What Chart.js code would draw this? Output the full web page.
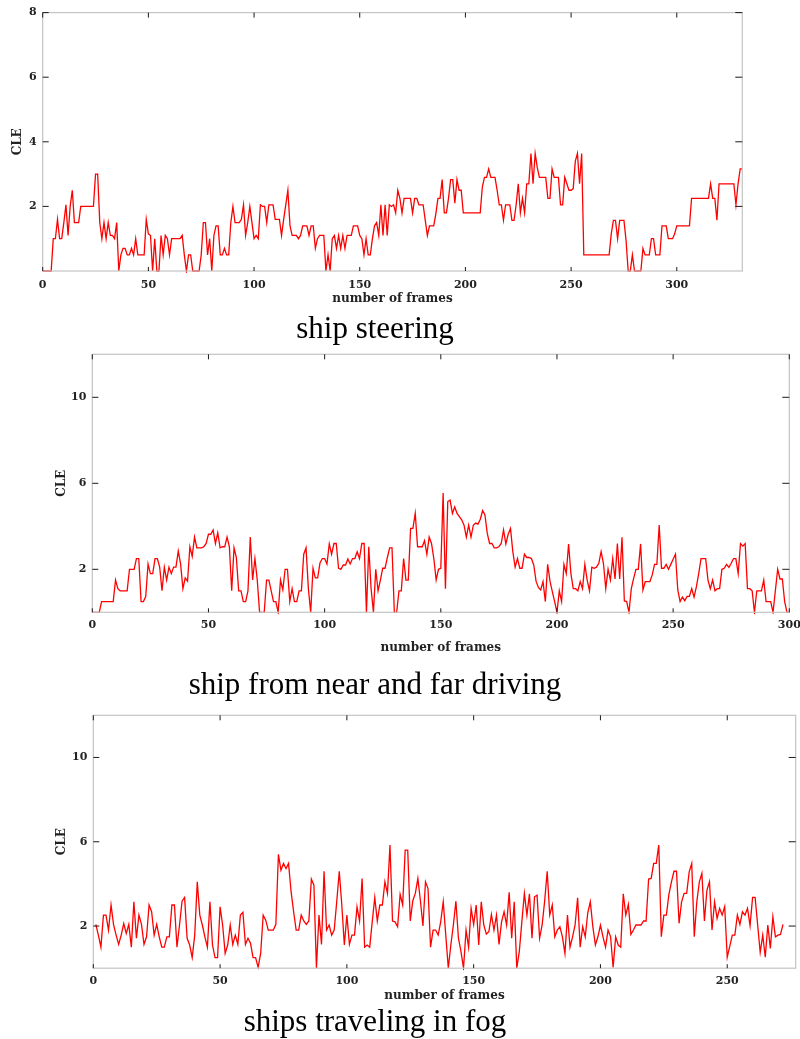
<!DOCTYPE html>
<html>
<head>
<meta charset="utf-8">
<script src="https://cdn.jsdelivr.net/npm/chart.js@4.4.1/dist/chart.umd.min.js"></script>
<style>
  html, body { margin: 0; padding: 0; background: #fff; overflow: hidden; }
  body { width: 800px; height: 1039px; position: relative; }
  .panel { position: absolute; left: 0; width: 820px; }
  .caption {
    position: absolute; left: 0; width: 750px; text-align: center;
    font-family: 'Liberation Serif', 'Times New Roman', serif;
    font-size: 31px; line-height: 31px; color: #000; white-space: nowrap;
  }
</style>
</head>
<body>
<div class="panel" style="top:0;height:312px"><canvas id="chart-steering"></canvas></div>
<div class="caption" style="top:312px">ship steering</div>
<div class="panel" style="top:340px;height:320px"><canvas id="chart-nearfar"></canvas></div>
<div class="caption" style="top:668px">ship from near and far driving</div>
<div class="panel" style="top:700px;height:310px"><canvas id="chart-fog"></canvas></div>
<div class="caption" style="top:1005px">ships traveling in fog</div>

<script>
// CLE per frame
const steeringStart = 0;
const steeringCLE = [
  0, 0, 0, 0, 0, 1.0, 1.0, 1.6, 1.0, 1.0,
  1.5, 2.05, 1.1, 2.0, 2.5, 1.5, 1.5, 1.5, 2.0, 2.0,
  2.0, 2.0, 2.0, 2.0, 2.0, 3.0, 3.0, 1.5, 1.0, 1.5,
  1.0, 1.5, 1.1, 1.1, 1.0, 1.5, 0, 0.5, 0.7, 0.7,
  0.5, 0.5, 0.7, 0.5, 1.0, 0.5, 0.5, 0.5, 0.5, 1.6,
  1.15, 1.1, 0, 1.0, 0, 0, 1.1, 0.5, 1.1, 1.0,
  0.5, 1.0, 1.0, 1.0, 1.0, 1.0, 1.1, 0.5, 0, 0.5,
  0.5, 0, 0, 0, 0, 0.5, 1.5, 1.5, 0.5, 1.0,
  0, 1.1, 1.4, 1.4, 0.5, 0.5, 0.7, 0.5, 0.5, 1.5,
  2.0, 1.5, 1.5, 1.5, 1.6, 2.05, 1.1, 1.5, 2.0, 1.5,
  1.0, 1.1, 1.0, 2.05, 2.0, 2.0, 1.5, 2.05, 2.05, 2.05,
  1.6, 1.6, 1.6, 1.1, 1.6, 2.05, 2.5, 1.4, 1.1, 1.1,
  1.1, 1.0, 1.1, 1.4, 1.4, 1.4, 1.1, 1.4, 1.4, 0.7,
  1.0, 1.1, 1.1, 1.1, 0, 0.5, 0, 1.0, 1.1, 0.7,
  1.1, 0.7, 1.1, 0.7, 1.1, 1.1, 1.1, 1.4, 1.4, 1.4,
  1.1, 1.0, 0.5, 1.0, 0.5, 0.5, 1.0, 1.4, 1.5, 1.1,
  2.05, 1.1, 2.05, 1.1, 2.05, 2.0, 2.05, 1.8, 2.5, 2.25,
  1.8, 2.25, 2.25, 2.25, 2.25, 1.8, 2.25, 2.25, 2.05, 2.05,
  2.05, 1.57, 1.1, 1.4, 1.4, 1.4, 1.77, 2.25, 2.25, 2.83,
  1.8, 1.8, 2.25, 2.83, 2.83, 2.1, 2.83, 2.5, 2.5, 1.8,
  1.8, 1.8, 1.8, 1.8, 1.8, 1.8, 1.8, 1.8, 2.6, 2.9,
  2.9, 3.16, 2.9, 2.9, 2.9, 2.5, 2.05, 2.05, 1.57, 2.05,
  2.05, 2.05, 1.57, 1.57, 2.05, 2.7, 1.8, 2.25, 1.8, 2.7,
  2.7, 3.64, 2.7, 3.64, 3.2, 2.9, 2.9, 2.9, 2.9, 2.25,
  2.25, 3.16, 2.9, 2.9, 2.9, 2.05, 2.05, 2.9, 2.7, 2.5,
  2.5, 2.55, 3.4, 3.64, 2.7, 3.64, 0.5, 0.5, 0.5, 0.5,
  0.5, 0.5, 0.5, 0.5, 0.5, 0.5, 0.5, 0.5, 0.5, 1.15,
  1.57, 1.57, 1.0, 1.57, 1.57, 1.57, 0.95, 0, 0, 0.5,
  0, 0, 0, 0, 0.7, 0.5, 0.5, 0.5, 1.0, 1.0,
  0.5, 0.5, 0.5, 1.4, 1.4, 1.4, 1.0, 1.0, 1.0, 1.15,
  1.4, 1.4, 1.4, 1.4, 1.4, 1.4, 1.4, 2.25, 2.25, 2.25,
  2.25, 2.25, 2.25, 2.25, 2.25, 2.25, 2.7, 2.25, 2.25, 1.57,
  2.7, 2.7, 2.7, 2.7, 2.7, 2.7, 2.7, 2.7, 2.05, 2.7,
  3.16, 3.16
];

const nearFarStart = 0;
const nearFarCLE = [
  0, 0, 0, 0, 0.5, 0.5, 0.5, 0.5, 0.5, 0.5,
  1.5, 1.1, 1.0, 1.0, 1.0, 1.0, 2.0, 2.0, 2.0, 2.5,
  2.5, 0.5, 0.5, 0.73, 2.25, 1.8, 1.8, 2.5, 2.5, 2.1,
  1.0, 2.1, 1.5, 2.1, 1.8, 2.1, 2.1, 2.85, 2.25, 1.1,
  1.6, 1.45, 3.05, 2.6, 3.5, 3.0, 3.0, 3.0, 3.05, 3.2,
  3.63, 3.63, 3.83, 3.2, 3.7, 3.0, 3.05, 3.05, 3.5, 3.05,
  1.0, 3.0, 2.55, 1.0, 1.0, 0.5, 0.5, 1.0, 3.5, 1.5,
  2.5, 1.5, 0, 0, 0, 1.5, 1.5, 1.0, 0.5, 0.5,
  0, 1.5, 1.05, 2.0, 2.0, 0.5, 1.1, 0.5, 0.5, 1.0,
  1.0, 2.7, 3.0, 1.1, 0, 2.05, 1.6, 1.6, 2.3, 2.5,
  2.5, 2.25, 3.18, 2.7, 3.2, 3.2, 2.05, 2.0, 2.2, 2.2,
  2.48, 2.25, 2.5, 2.5, 2.82, 2.5, 3.2, 3.2, 0, 3.05,
  1.1, 0, 2.0, 1.0, 1.5, 2.05, 2.05, 2.55, 3.0, 3.0,
  0, 0, 1.0, 1.0, 2.5, 1.5, 1.5, 3.9, 3.9, 4.6,
  3.05, 3.05, 3.05, 3.33, 2.7, 3.5, 3.2, 2.5, 1.5, 2.0,
  2.05, 5.55, 1.1, 5.15, 5.22, 4.6, 4.9, 4.6, 4.45, 4.3,
  4.05, 3.5, 4.05, 3.5, 4.05, 4.15, 4.1, 4.33, 4.73, 4.53,
  3.67, 3.2, 3.2, 3.0, 3.0, 3.05, 3.2, 3.83, 3.18, 3.63,
  3.9, 2.82, 2.1, 2.5, 2.05, 2.05, 2.7, 2.55, 2.55, 2.5,
  2.2, 1.45, 1.16, 1.04, 1.43, 0.5, 2.23, 1.45, 0.96, 0.5,
  0, 1.0, 0.5, 2.23, 1.8, 3.18, 1.8, 1.1, 1.1, 1.0,
  1.43, 1.1, 2.23, 1.5, 1.0, 2.1, 2.05, 2.1, 2.28, 2.82,
  2.28, 1.1, 2.0, 1.5, 2.5, 1.55, 3.2, 1.55, 3.49, 0.53,
  0.5, 0, 1.1, 1.58, 2.0, 2.0, 3.18, 1.04, 1.43, 1.43,
  1.43, 1.74, 2.23, 2.23, 4.06, 2.05, 2.05, 2.23, 2.0, 2.23,
  2.47, 2.71, 1.04, 0.5, 0.71, 0.54, 0.74, 0.74, 1.1, 0.71,
  1.18, 1.8, 2.5, 2.5, 2.5, 1.5, 1.1, 1.5, 1.0, 1.1,
  1.1, 2.0, 2.05, 2.23, 2.09, 2.28, 2.5, 2.5, 1.8, 3.2,
  3.08, 3.2, 1.1, 1.1, 1.0, 0, 1.0, 1.0, 1.0, 1.5,
  0.5, 0.5, 0.5, 0, 1.0, 2.0, 1.55, 1.55, 0.5, 0,
  0
];

const fogStart = 1;
const fogCLE = [
  2.08, 1.57, 1.0, 2.52, 2.52, 1.81, 3.0, 2.05, 1.57, 1.13,
  1.57, 2.12, 1.65, 2.08, 1.0, 3.15, 1.42, 2.52, 2.08, 1.13,
  1.49, 3.0, 2.68, 1.57, 2.08, 1.49, 1.0, 1.0, 1.49, 1.49,
  3.0, 3.0, 1.0, 2.05, 3.18, 3.36, 1.42, 1.1, 0.5, 1.57,
  4.1, 2.52, 2.05, 1.49, 1.0, 3.15, 1.1, 0.5, 0.5, 2.91,
  2.05, 0.7, 1.1, 2.05, 1.13, 1.57, 1.13, 2.52, 2.65, 1.13,
  1.42, 1.18, 0.5, 0.5, 0.04, 0.7, 2.52, 2.28, 1.81, 1.81,
  1.81, 2.08, 5.4, 4.65, 4.97, 4.73, 4.97, 3.63, 2.68, 1.81,
  1.81, 2.52, 2.24, 2.08, 2.24, 4.23, 3.94, 0, 2.52, 1.13,
  4.6, 1.81, 2.05, 1.57, 1.81, 3.15, 4.6, 3.0, 1.1, 2.52,
  1.13, 1.57, 1.57, 2.91, 2.24, 4.26, 1.0, 1.1, 1.0, 2.2,
  3.36, 2.24, 3.0, 3.0, 4.1, 3.55, 5.84, 2.24, 2.2, 1.97,
  3.5, 3.0, 5.6, 5.6, 2.24, 3.2, 3.55, 4.26, 3.2, 2.0,
  4.1, 3.78, 1.0, 1.81, 1.81, 1.57, 2.2, 3.15, 1.57, 0,
  1.1, 2.05, 3.18, 1.42, 0.79, 0, 1.81, 1.0, 2.84, 2.08,
  3.0, 1.1, 3.15, 2.05, 1.62, 1.73, 2.55, 1.81, 2.52, 1.13,
  2.2, 2.68, 2.05, 3.6, 1.42, 3.15, 0, 0.79, 2.2, 3.55,
  2.52, 3.53, 1.42, 3.39, 3.47, 1.42, 2.05, 3.18, 4.6, 2.52,
  3.0, 1.49, 1.81, 1.97, 1.49, 0.7, 2.52, 1.0, 1.49, 2.05,
  3.34, 1.0, 1.97, 1.49, 2.63, 3.15, 1.97, 1.1, 1.49, 2.05,
  1.49, 1.0, 1.81, 1.49, 0.04, 1.49, 1.1, 1.0, 3.53, 2.52,
  3.03, 1.6, 1.81, 2.05, 2.05, 2.05, 2.24, 2.24, 4.23, 4.26,
  4.97, 4.97, 5.84, 1.49, 2.52, 2.52, 3.5, 4.1, 4.6, 4.6,
  2.13, 3.15, 3.55, 3.55, 4.57, 4.97, 1.49, 3.15, 4.1, 4.5,
  2.24, 3.71, 4.1, 1.81, 3.15, 2.36, 2.84, 2.52, 2.92, 0.52,
  1.05, 1.57, 1.57, 2.52, 2.08, 2.68, 2.52, 2.84, 2.02, 3.36,
  3.36, 2.05, 0.75, 1.57, 0.52, 2.05, 0.94, 2.44, 1.49, 1.57,
  1.6, 2.08
];

// axis ticks
const frameTicks = [0, 50, 100, 150, 200, 250, 300];
const steeringYTicks = [2, 4, 6, 8];
const tallYTicks = [2, 6, 10];

const tickFont = { family: "'DejaVu Serif', serif", size: 11, weight: 'bold' };
const titleFont = { family: "'DejaVu Serif', serif", size: 12, weight: 'bold' };

// light grey box with short black ticks pointing inward on all four sides
const boxTicks = {
  id: 'boxTicks',
  afterDraw(chart) {
    const { ctx, chartArea: a, scales: { x, y } } = chart;
    ctx.save();
    ctx.strokeStyle = '#c4c4c4';
    ctx.lineWidth = 1.2;
    ctx.strokeRect(a.left, a.top, a.right - a.left, a.bottom - a.top);
    ctx.strokeStyle = '#1a1a1a';
    ctx.lineWidth = 1;
    ctx.beginPath();
    x.ticks.forEach((t) => {
      const px = x.getPixelForValue(t.value);
      ctx.moveTo(px, a.bottom);
      ctx.lineTo(px, a.bottom - 4);
      ctx.moveTo(px, a.top);
      ctx.lineTo(px, a.top + 5);
    });
    y.ticks.forEach((t) => {
      const py = y.getPixelForValue(t.value);
      ctx.moveTo(a.left, py);
      ctx.lineTo(a.left + 6, py);
      ctx.moveTo(a.right, py);
      ctx.lineTo(a.right - 7, py);
    });
    ctx.stroke();
    ctx.restore();
  },
};

function makeChart(id, values, start, xMax, yMax, yTicks, box) {
  const points = values.map((v, i) => ({ x: start + i, y: v }));

  return new Chart(document.getElementById(id), {
    type: 'line',
    data: {
      datasets: [
        {
          data: points,
          borderColor: '#ff0000',
          borderWidth: 1.3,
          pointRadius: 0,
          tension: 0,
          clip: 2,
        },
      ],
    },
    options: {
      responsive: true,
      maintainAspectRatio: false,
      animation: false,
      layout: { padding: { top: box.top, right: box.right, bottom: 0, left: 0 } },
      plugins: { legend: { display: false }, tooltip: { enabled: false } },
      scales: {
        x: {
          type: 'linear',
          min: 0,
          max: xMax,
          grid: { display: false, drawTicks: false },
          border: { display: false },
          afterBuildTicks: (s) => {
            s.ticks = frameTicks.filter((v) => v <= xMax).map((v) => ({ value: v }));
          },
          afterFit: (s) => {
            s.height = box.xHeight;
          },
          ticks: { font: tickFont, color: '#222', padding: box.tickPad, autoSkip: false, maxRotation: 0 },
          title: {
            display: true,
            text: 'number of frames',
            font: titleFont,
            color: '#222',
            padding: { top: 0, bottom: box.xTitlePad },
          },
        },
        y: {
          min: 0,
          max: yMax,
          grid: { display: false, drawTicks: false },
          border: { display: false },
          afterBuildTicks: (s) => {
            s.ticks = yTicks.map((v) => ({ value: v }));
          },
          afterFit: (s) => {
            s.width = box.yWidth;
          },
          ticks: { font: tickFont, color: '#222', padding: 6 },
          title: {
            display: true,
            text: 'CLE',
            font: titleFont,
            color: '#222',
            padding: { top: box.yTitlePad, bottom: 0 },
          },
        },
      },
    },
    plugins: [boxTicks],
  });
}

makeChart('chart-steering', steeringCLE, steeringStart, 331, 8, steeringYTicks, {
  top: 10.7, right: 77.7, xHeight: 41, yWidth: 42.7, xTitlePad: 5.8, yTitlePad: 10.8, tickPad: 8,
});
makeChart('chart-nearfar', nearFarCLE, nearFarStart, 300, 12, tallYTicks, {
  top: 14.3, right: 30.7, xHeight: 47.7, yWidth: 92.3, xTitlePad: 4.8, yTitlePad: 54.8, tickPad: 6,
});
makeChart('chart-fog', fogCLE, fogStart, 277, 12, tallYTicks, {
  top: 15.3, right: 24.3, xHeight: 41.8, yWidth: 93.3, xTitlePad: 6.8, yTitlePad: 54.8, tickPad: 6,
});
</script>
</body>
</html>
